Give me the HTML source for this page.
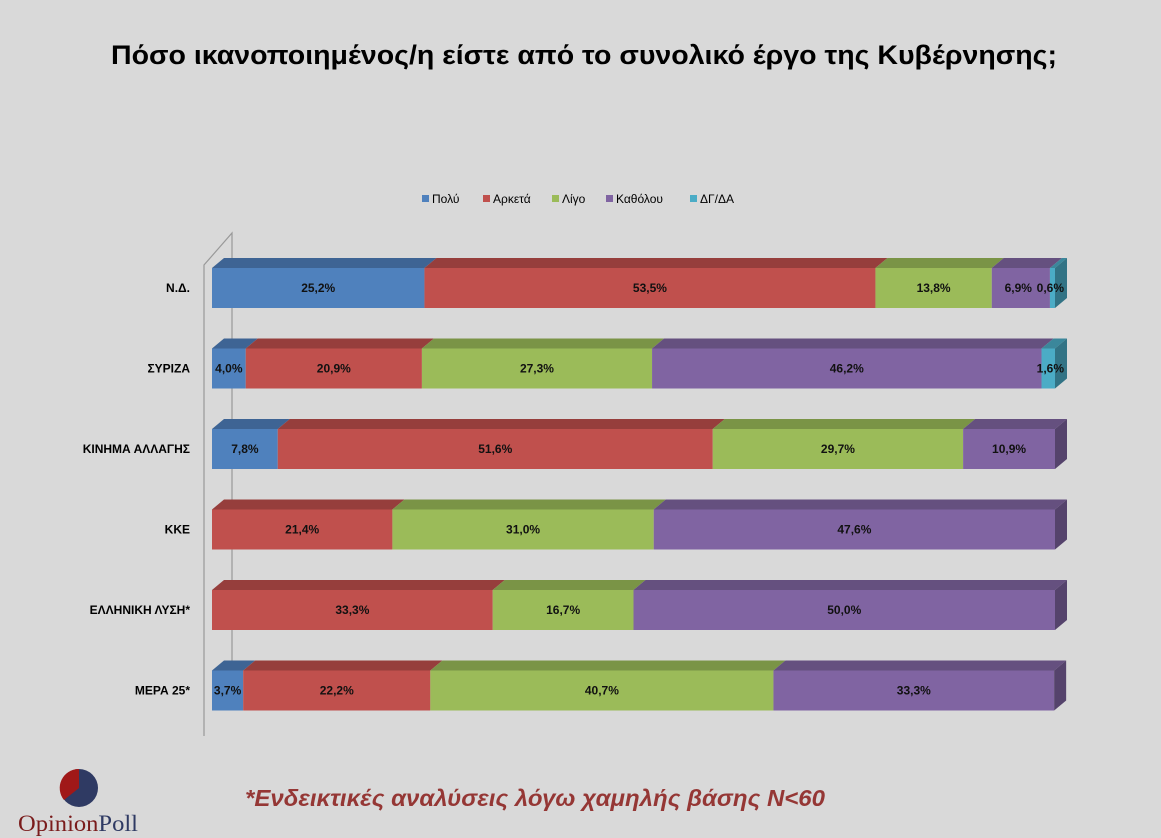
<!DOCTYPE html>
<html><head><meta charset="utf-8"><style>
body{margin:0;background:#d9d9d9;font-family:"Liberation Sans",sans-serif}
#c{position:absolute;left:0;top:0}
</style></head><body>
<svg id="c" width="1161" height="838">
<rect width="1161" height="838" fill="#d9d9d9"/>
<text x="584" y="64" text-anchor="middle" font-size="27" font-weight="bold" fill="#000" textLength="946" lengthAdjust="spacingAndGlyphs">Πόσο ικανοποιημένος/η είστε από το συνολικό έργο της Κυβέρνησης;</text>
<g id="legend"></g>
<path d="M204,736 L204,265 L232,233 L232,705" fill="none" stroke="#999" stroke-width="1.2"/>
<g id="bars"></g>
<g>
<circle cx="79" cy="788" r="19" fill="#2f3a63"/>
<path d="M79,788 L79,769 A19,19 0 0 0 64,800 Z" fill="#a01818"/>
<text x="18" y="831" font-family="Liberation Serif,serif" font-size="23" fill="#7a1c1c" textLength="120" lengthAdjust="spacingAndGlyphs">Opinion<tspan fill="#2f3a63">Poll</tspan></text>
</g>
<text x="245" y="806" font-size="23" font-weight="bold" font-style="italic" fill="#953735" textLength="580" lengthAdjust="spacingAndGlyphs">*Ενδεικτικές αναλύσεις λόγω χαμηλής βάσης Ν&lt;60</text>
</svg>
<script>
const categories=["Ν.Δ.","ΣΥΡΙΖΑ","ΚΙΝΗΜΑ ΑΛΛΑΓΗΣ","ΚΚΕ","ΕΛΛΗΝΙΚΗ ΛΥΣΗ*","ΜΕΡΑ 25*"];
const seriesNames=["Πολύ","Αρκετά","Λίγο","Καθόλου","ΔΓ/ΔΑ"];
const poly=[25.2,4.0,7.8,0,0,3.7];
const arketa=[53.5,20.9,51.6,21.4,33.3,22.2];
const ligo=[13.8,27.3,29.7,31.0,16.7,40.7];
const katholou=[6.9,46.2,10.9,47.6,50.0,33.3];
const dgda=[0.6,1.6,0,0,0,0];
const series=[poly,arketa,ligo,katholou,dgda];
const front=["#4f81bd","#c0504d","#9bbb59","#8064a2","#4bacc6"];
const top_=["#3e6494","#963e3c","#7a9446","#65507f","#3b879b"];
const side=["#35567f","#7f3533","#677d3b","#55436c","#327385"];
const NS="http://www.w3.org/2000/svg";
const x0=212,W=843,y0=268,step=80.5,h=40,dx=12,dy=10;
const xs=v=>x0+v/100*W;
const g=document.getElementById('bars');
function el(t,a,p){const e=document.createElementNS(NS,t);for(const k in a)e.setAttribute(k,a[k]);(p||g).appendChild(e);return e;}
categories.forEach((cat,i)=>{
  const y=y0+i*step;
  const lab=el('text',{x:190,y:y+h/2+4,'text-anchor':'end','font-size':12,'font-weight':'bold',fill:'#000'});
  lab.textContent=cat;
  
  
  let cum=0,lastS=-1,lastEnd=0;
  series.forEach((s,j)=>{
    const v=s[i];if(!v)return;
    const a=xs(cum),b=xs(cum+v);cum+=v;
    const tp=el('polygon',{points:`${a},${y} ${a+dx},${y-dy} ${b+dx},${y-dy} ${b},${y}`,fill:top_[j]});
    
    
    const r=el('rect',{x:a,y:y,width:b-a,height:h,fill:front[j]});
    
    
    lastS=j;lastEnd=b;
  });
  const sd=el('polygon',{points:`${lastEnd},${y} ${lastEnd+dx},${y-dy} ${lastEnd+dx},${y+h-dy} ${lastEnd},${y+h}`,fill:side[lastS]});
  
  
  cum=0;
  series.forEach((s,j)=>{
    const v=s[i];if(!v)return;
    const a=xs(cum),b=xs(cum+v);cum+=v;
    let cx=(a+b)/2,anchor='middle';
    if(j==4){cx=b+dx-3;anchor='end';}
    else if(j==3&&series[4][i]&&series[4][i]<1){cx=b-18;anchor='end';}
    const t=el('text',{x:cx,y:y+h/2+4,'text-anchor':anchor,'font-size':12,'font-weight':'bold',fill:'#111'});
    t.textContent=v.toFixed(1).replace('.',',')+'%';
    
    
  });
});
const lg=document.getElementById('legend');
const lx=[422,483,552,606,690];
seriesNames.forEach((n,j)=>{
  const r=el('rect',{x:lx[j],y:195,width:7,height:7,fill:front[j]},lg);
  
  
  const t=el('text',{x:lx[j]+10,y:203,'font-size':12,fill:'#000'},lg);
  t.textContent=n;
  
  
});
</script>
</body></html>
